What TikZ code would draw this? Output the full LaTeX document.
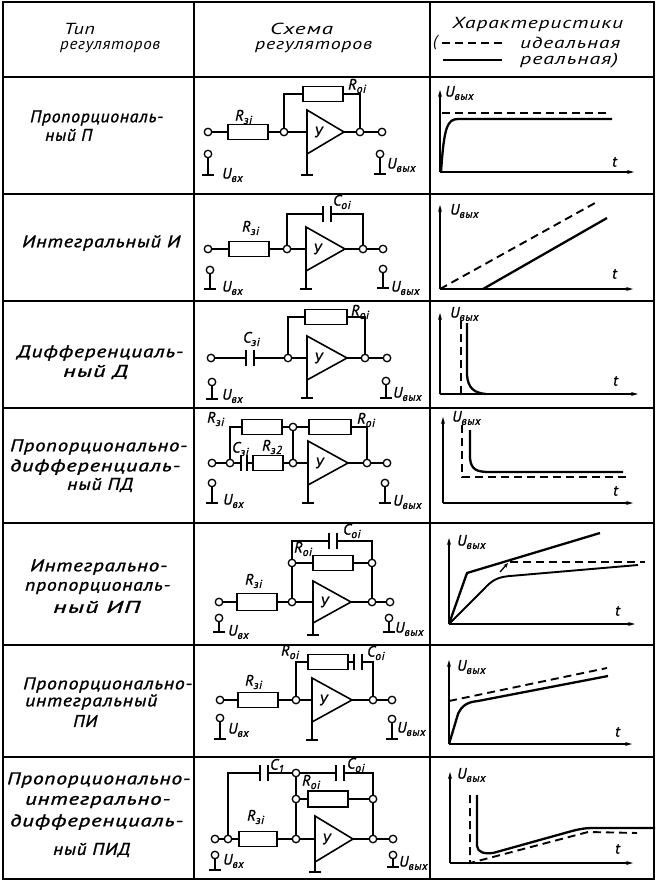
\documentclass[tikz,border=0pt]{standalone}
\usepackage{fontspec}
\setmainfont{PT Sans}[LetterSpace=4]
\newfontfamily\gostb{PT Sans}[LetterSpace=4, FakeBold=1.2]
\usepackage{graphicx}
\usetikzlibrary{arrows.meta}

\newcommand{\sbs}[1]{\raisebox{-0.45ex}{\fontsize{11.5}{11.5}\selectfont #1}}
\newcommand{\lblfont}{\gostb\fontsize{15}{15}\selectfont\itshape}
\newcommand{\txtfont}{\gostb\fontsize{17}{17}\selectfont\itshape}
\newcommand{\hdfont}{\fontsize{16}{16}\selectfont\itshape}

\tikzset{
  grid/.style={line width=2.6pt},
  wire/.style={line width=1.6pt},
  res/.style={draw, rectangle, line width=1.8pt, minimum width=40pt, minimum height=15pt, inner sep=0pt},
  term/.style={draw, circle, line width=1.3pt, fill=white, minimum size=7.5pt, inner sep=0pt},
  capn/.style={rectangle, minimum width=7pt, minimum height=16pt, inner sep=0pt},
  lbl/.style={font=\lblfont, inner sep=0pt, anchor=west},
  txt/.style={font=\txtfont, inner sep=0pt, anchor=west},
  hd/.style={font=\hdfont, inner sep=0pt, anchor=west},
  axis/.style={line width=1.4pt, -{Stealth[length=7pt,width=4pt]}},
  ideal/.style={line width=1.9pt, dash pattern=on 8pt off 5pt},
  real/.style={line width=2.3pt},
}

\newcommand{\tl}[5]{\node[txt] (#1) at (#2,#3) {\resizebox{#4pt}{\height}{#5}};}
\newcommand{\hl}[5]{\node[hd] (#1) at (#2,#3) {\resizebox{#4pt}{\height}{#5}};}
\newcommand{\plates}[1]{\draw[line width=2pt] (#1.north west) -- (#1.south west) (#1.north east) -- (#1.south east);}
\newcommand{\gterm}[4]{%
  \node[term] (#1) at (#2,#3) {};
  \coordinate (#1-g) at (#2,#4);
  \draw[wire] (#1) -- (#1-g);
  \draw[wire] ({#2-6},#4) -- ({#2+6},#4);
}
\newcommand{\opamp}[6]{%
  \coordinate (#1-in) at (#2,{(#3+#4)/2});
  \coordinate (#1-out) at (#5,{(#3+#4)/2});
  \draw[wire, line join=miter] (#2,#3) -- (#1-out) -- (#2,#4) -- cycle;
  \draw[wire] (#2,#4) -- (#2,#6);
  \draw[wire] ({#2-6},#6) -- ({#2+6},#6);
  \node[lbl, anchor=center] (#1-u) at ({#2+11},{(#3+#4)/2}) {У};
}
\newcommand{\axes}[5]{%
  \coordinate (#1-o) at (#2,#3);
  \coordinate (#1-y) at (#2,#4);
  \coordinate (#1-x) at (#5,#3);
  \draw[axis] (#1-o) -- (#1-y);
  \draw[axis] (#1-o) -- (#1-x);
}

\begin{document}
\begin{tikzpicture}[x=1pt,y=-1pt]
\useasboundingbox (0,0) rectangle (658,883);
\fill[white] (0,0) rectangle (658,883);

% ---------- table ----------
\draw[grid] (3,2) rectangle (654,879);
\draw[grid] (194,2) -- (194,879);
\draw[grid] (430,2) -- (430,879);
\foreach \yy in {77,194,301,408,523,645,757} \draw[grid] (3,\yy) -- (654,\yy);

% ---------- header ----------
\hl{h1a}{64}{29}{31}{Тип}
\hl{h1b}{60}{47}{100}{регуляторов}
\hl{h2a}{270}{29}{63}{Схема}
\hl{h2b}{255}{47}{117}{регуляторов}
\hl{h3a}{452}{25}{171}{Характеристики}
\node[hd] (h3p) at (433,43) {(};
\coordinate (lg1a) at (442,43); \coordinate (lg1b) at (503,43);
\draw[ideal, line width=1.5pt] (lg1a) -- (lg1b);
\hl{h3b}{520}{43}{100}{идеальная}
\coordinate (lg2a) at (443,60); \coordinate (lg2b) at (502,60);
\draw[real] (lg2a) -- (lg2b);
\hl{h3c}{520}{61}{98}{реальная)}

% ---------- first column ----------
\tl{t1a}{30}{118}{133}{Пропорциональ-}
\tl{t1b}{45}{135}{47}{ный П}
\tl{t2a}{22}{243}{158}{Интегральный И}
\tl{t3a}{17}{353}{166}{Дифференциаль-}
\tl{t3b}{63}{372}{65}{ный Д}
\tl{t4a}{10}{447}{177}{Пропорционально-}
\tl{t4b}{10}{467}{170}{дифференциаль-}
\tl{t4c}{67}{485}{66}{ный ПД}
\tl{t5a}{30}{567}{137}{Интегрально-}
\tl{t5b}{25}{588}{145}{пропорциональ-}
\tl{t5c}{53}{607}{87}{ный ИП}
\tl{t6a}{23}{685}{169}{Пропорционально-}
\tl{t6b}{25}{702}{132}{интегральный}
\tl{t6c}{73}{721}{24}{ПИ}
\tl{t7a}{7}{780}{183}{Пропорционально-}
\tl{t7b}{25}{802}{145}{интегрально-}
\tl{t7c}{10}{822}{173}{дифференциаль-}
\tl{t7d}{53}{850}{77}{ный ПИД}

% ---------- row 1: P ----------
\node[term] (a1in) at (208,132) {};
\node[res] (a1r) at (248,132) {};
\node[term] (a1n) at (284,132) {};
\opamp{a1op}{307}{110}{154}{344}{175}
\node[term] (a1m) at (360,132) {};
\node[term] (a1out) at (382,132) {};
\node[res] (a1f) at (323,94) {};
\draw[wire] (a1in) -- (a1r) -- (a1n) -- (a1op-in);
\draw[wire] (a1op-out) -- (a1m) -- (a1out);
\draw[wire] (a1n) |- (a1f.west);
\draw[wire] (a1f.east) -| (a1m);
\node[lbl] (a1lr) at (235,117) {R\sbs{зi}};
\node[lbl] (a1lf) at (348,86) {R\sbs{oi}};
\gterm{a1ui}{208}{154}{175}
\node[lbl] (a1lui) at (222,175) {U\sbs{вх}};
\gterm{a1uo}{380}{154}{174}
\node[lbl] (a1luo) at (387,165) {U\sbs{вых}};

% ---------- row 2: I ----------
\node[term] (a2in) at (208,249) {};
\node[res] (a2r) at (249,249) {};
\node[term] (a2n) at (287,249) {};
\opamp{a2op}{306}{227}{271}{345}{289}
\node[term] (a2m) at (363,249) {};
\node[term] (a2out) at (383,249) {};
\node[capn] (a2c) at (327,214) {}; \plates{a2c}
\draw[wire] (a2in) -- (a2r) -- (a2n) -- (a2op-in);
\draw[wire] (a2op-out) -- (a2m) -- (a2out);
\draw[wire] (a2n) |- (a2c.west);
\draw[wire] (a2c.east) -| (a2m);
\node[lbl] (a2lr) at (242,228) {R\sbs{зi}};
\node[lbl] (a2lc) at (333,202) {C\sbs{oi}};
\gterm{a2ui}{210}{270}{289}
\node[lbl] (a2lui) at (222,288) {U\sbs{вх}};
\gterm{a2uo}{383}{269}{288}
\node[lbl] (a2luo) at (391,288) {U\sbs{вых}};

% ---------- row 3: D ----------
\node[term] (a3in) at (211,358) {};
\node[capn] (a3c) at (250,358) {}; \plates{a3c}
\node[term] (a3n) at (288,358) {};
\opamp{a3op}{307}{336}{380}{347}{398}
\node[term] (a3m) at (365,358) {};
\node[term] (a3out) at (387,358) {};
\node[res, minimum width=42pt] (a3f) at (326,317) {};
\draw[wire] (a3in) -- (a3c.west);
\draw[wire] (a3c.east) -- (a3n) -- (a3op-in);
\draw[wire] (a3op-out) -- (a3m) -- (a3out);
\draw[wire] (a3n) |- (a3f.west);
\draw[wire] (a3f.east) -| (a3m);
\node[lbl] (a3lc) at (243,339) {C\sbs{зi}};
\node[lbl] (a3lf) at (351,312) {R\sbs{oi}};
\gterm{a3ui}{212}{382}{399}
\node[lbl] (a3lui) at (222,396) {U\sbs{вх}};
\gterm{a3uo}{386}{381}{398}
\node[lbl] (a3luo) at (393,394) {U\sbs{вых}};

% ---------- row 4: PD ----------
\node[term] (a4in) at (212,463) {};
\node[term] (a4nA) at (230,463) {};
\node[capn, minimum width=6pt] (a4c) at (244,463) {}; \plates{a4c}
\node[res, minimum width=30pt] (a4r2) at (268,463) {};
\node[term] (a4n) at (293,463) {};
\opamp{a4op}{308}{441}{485}{348}{503}
\node[term] (a4m) at (367,463) {};
\node[term] (a4out) at (387,463) {};
\node[res] (a4r) at (262,427) {};
\node[term] (a4nT) at (293,427) {};
\node[res, minimum width=42pt] (a4f) at (330,427) {};
\draw[wire] (a4in) -- (a4nA) -- (a4c.west);
\draw[wire] (a4c.east) -- (a4r2) -- (a4n) -- (a4op-in);
\draw[wire] (a4op-out) -- (a4m) -- (a4out);
\draw[wire] (a4nA) |- (a4r.west);
\draw[wire] (a4r) -- (a4nT) -- (a4f);
\draw[wire] (a4nT) -- (a4n);
\draw[wire] (a4f.east) -| (a4m);
\node[lbl] (a4lr) at (207,419) {R\sbs{зi}};
\node[lbl] (a4lc) at (232,449) {C\sbs{зi}};
\node[lbl] (a4lr2) at (262,447) {R\sbs{з2}};
\node[lbl] (a4lf) at (357,420) {R\sbs{oi}};
\gterm{a4ui}{212}{483}{503}
\node[lbl] (a4lui) at (223,501) {U\sbs{вх}};
\gterm{a4uo}{385}{483}{503}
\node[lbl] (a4luo) at (393,502) {U\sbs{вых}};

% ---------- row 5: IP ----------
\node[term] (a5in) at (219,602) {};
\node[res, minimum height=17pt] (a5r) at (257,602) {};
\node[term] (a5n) at (292,602) {};
\opamp{a5op}{313}{581}{623}{351}{635}
\node[term] (a5m) at (372,602) {};
\node[term] (a5out) at (390,602) {};
\node[term] (a5nM) at (292,563) {};
\node[term] (a5nM2) at (372,563) {};
\node[res] (a5f) at (333,563) {};
\node[capn] (a5c) at (333,541) {}; \plates{a5c}
\draw[wire] (a5in) -- (a5r) -- (a5n) -- (a5op-in);
\draw[wire] (a5op-out) -- (a5m) -- (a5out);
\draw[wire] (a5n) -- (a5nM);
\draw[wire] (a5nM) -- (a5f) -- (a5nM2);
\draw[wire] (a5nM2) -- (a5m);
\draw[wire] (a5nM) |- (a5c.west);
\draw[wire] (a5c.east) -| (a5nM2);
\node[lbl] (a5lr) at (245,581) {R\sbs{зi}};
\node[lbl] (a5lf) at (294,549) {R\sbs{oi}};
\node[lbl] (a5lc) at (343,531) {C\sbs{oi}};
\gterm{a5ui}{219}{618}{632}
\node[lbl] (a5lui) at (228,632) {U\sbs{вх}};
\gterm{a5uo}{389}{618}{632}
\node[lbl] (a5luo) at (395,629) {U\sbs{вых}};

% ---------- row 6: PI ----------
\node[term] (a6in) at (220,700) {};
\node[res] (a6r) at (258,700) {};
\node[term] (a6n) at (296,700) {};
\opamp{a6op}{312}{678}{722}{352}{740}
\node[term] (a6m) at (373,700) {};
\node[term] (a6out) at (392,700) {};
\node[res] (a6f) at (328,662) {};
\node[capn] (a6c) at (358,662) {}; \plates{a6c}
\draw[wire] (a6in) -- (a6r) -- (a6n) -- (a6op-in);
\draw[wire] (a6op-out) -- (a6m) -- (a6out);
\draw[wire] (a6n) |- (a6f.west);
\draw[wire] (a6f.east) -- (a6c.west);
\draw[wire] (a6c.east) -| (a6m);
\node[lbl] (a6lf) at (281,652) {R\sbs{oi}};
\node[lbl] (a6lc) at (367,653) {C\sbs{oi}};
\node[lbl] (a6lr) at (245,682) {R\sbs{зi}};
\gterm{a6ui}{220}{718}{739}
\node[lbl] (a6lui) at (228,730) {U\sbs{вх}};
\gterm{a6uo}{392}{719}{739}
\node[lbl] (a6luo) at (397,729) {U\sbs{вых}};

% ---------- row 7: PID ----------
\node[term] (a7in) at (215,839) {};
\node[term] (a7nA) at (228,839) {};
\node[res, minimum width=38pt] (a7r) at (258,839) {};
\node[term] (a7n) at (296,839) {};
\opamp{a7op}{315}{816}{862}{353}{872}
\node[term] (a7m) at (373,839) {};
\node[term] (a7out) at (393,839) {};
\node[term] (a7nM) at (296,799) {};
\node[term] (a7nM2) at (373,799) {};
\node[res, minimum height=16pt] (a7f) at (328,799) {};
\node[term] (a7nT) at (296,773) {};
\node[capn] (a7c1) at (264,773) {}; \plates{a7c1}
\node[capn] (a7c2) at (340,773) {}; \plates{a7c2}
\draw[wire] (a7in) -- (a7nA) -- (a7r) -- (a7n) -- (a7op-in);
\draw[wire] (a7op-out) -- (a7m) -- (a7out);
\draw[wire] (a7nA) |- (a7c1.west);
\draw[wire] (a7c1.east) -- (a7nT);
\draw[wire] (a7nT) -- (a7nM) -- (a7n);
\draw[wire] (a7nM) -- (a7f) -- (a7nM2);
\draw[wire] (a7nT) -- (a7c2.west);
\draw[wire] (a7c2.east) -| (a7nM2);
\draw[wire] (a7nM2) -- (a7m);
\node[lbl] (a7lc1) at (270,766) {C\sbs{1}};
\node[lbl] (a7lc2) at (347,765) {C\sbs{oi}};
\node[lbl] (a7lf) at (302,782) {R\sbs{oi}};
\node[lbl] (a7lr) at (247,817) {R\sbs{зi}};
\gterm{a7ui}{215}{855}{870}
\node[lbl] (a7lui) at (223,861) {U\sbs{вх}};
\gterm{a7uo}{393}{855}{867}
\node[lbl] (a7luo) at (399,863) {U\sbs{вых}};

% ---------- characteristics ----------
% row 1
\axes{g1}{440}{172}{90}{634}
\draw[ideal] (442,113) -- (607,113);
\draw[real] (441,172) .. controls (444,128) and (447,119) .. (458,119) -- (612,119);
\node[lbl] (g1l) at (445,93) {U\sbs{вых}};
\node[lbl] (g1t) at (612,162) {t};
% row 2
\axes{g2}{440}{289}{205}{633}
\draw[ideal] (440,289) -- (595,203);
\draw[real] (483,289) -- (607,218);
\node[lbl] (g2l) at (450,211) {U\sbs{вых}};
\node[lbl] (g2t) at (612,274) {t};
% row 3
\axes{g3}{440}{394}{313}{638}
\draw[ideal] (461,321) -- (461,394);
\draw[real] (467,323) -- (467,375) .. controls (468,388) and (474,393) .. (486,394);
\node[lbl] (g3l) at (450,314) {U\sbs{вых}};
\node[lbl] (g3t) at (613,381) {t};
% row 4
\axes{g4}{443}{503}{417}{633}
\draw[ideal] (462,425) -- (462,477) -- (627,477);
\draw[real] (470,430) -- (470,458) .. controls (471,470) and (477,472) .. (490,472) -- (623,472);
\node[lbl] (g4l) at (452,418) {U\sbs{вых}};
\node[lbl] (g4t) at (613,491) {t};
% row 5
\axes{g5}{449}{624}{538}{635}
\draw[real] (449,624) -- (467,573) -- (600,533);
\draw[ideal] (510,562) -- (645,562);
\draw[line width=1.9pt] (449,624) -- (484,589) .. controls (492,580) and (498,577) .. (510,576) -- (638,565);
\draw[line width=1.3pt, -{Stealth[length=5pt,width=4pt]}] (500,572) -- (508,563);
\node[lbl] (g5l) at (457,542) {U\sbs{вых}};
\node[lbl] (g5t) at (615,611) {t};
% row 6
\axes{g6}{449}{744}{660}{632}
\draw[ideal] (449,701) -- (607,668);
\draw[real] (449,744) -- (458,714) .. controls (462,705) and (468,702) .. (478,701) -- (608,676);
\node[lbl] (g6l) at (457,667) {U\sbs{вых}};
\node[lbl] (g6t) at (615,732) {t};
% row 7
\axes{g7}{450}{863}{772}{633}
\draw[ideal] (470,795) -- (470,863) -- (588,832) -- (637,833);
\draw[real] (477,795) -- (477,846) .. controls (478,852) and (483,854) .. (493,853) -- (572,831) .. controls (580,829) and (585,828) .. (592,828) -- (655,828);
\node[lbl] (g7l) at (457,775) {U\sbs{вых}};
\node[lbl] (g7t) at (615,849) {t};
\end{tikzpicture}
\end{document}
